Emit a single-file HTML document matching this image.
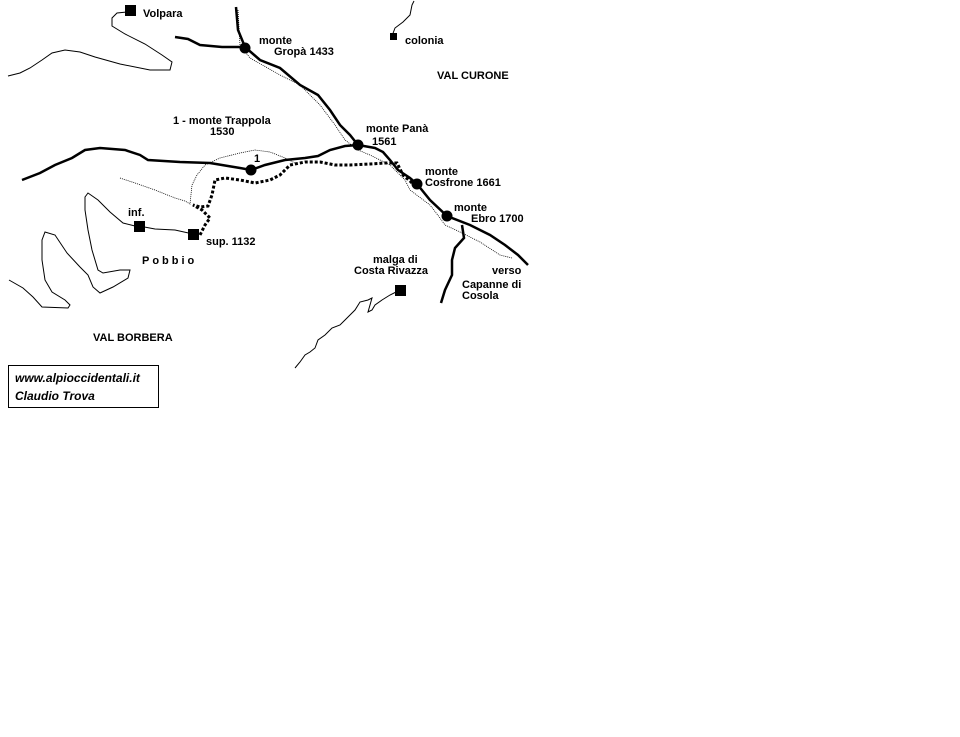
<!DOCTYPE html>
<html><head><meta charset="utf-8"><style>
html,body{margin:0;padding:0;background:#fff;}
body{width:960px;height:737px;position:relative;overflow:hidden;}
svg{position:absolute;left:0;top:0;}
text{font-family:"Liberation Sans",Arial,sans-serif;font-size:11px;font-weight:bold;fill:#000;}
.box{position:absolute;left:8px;top:365px;border:1px solid #000;font-family:"Liberation Sans",sans-serif;font-size:12px;font-weight:bold;font-style:italic;line-height:18px;padding:3px 0 0 6px;box-sizing:border-box;width:151px;height:43px;}
</style></head><body>
<svg width="960" height="737" viewBox="0 0 960 737">
<g fill="none" stroke="#000">
<!-- thin rivers -->
<path stroke-width="1" d="M127,12 L117,13 L112,18 L112,26 L125,34 L145,44 L162,55 L172,62 L170,70 L150,70 L120,64 L95,57 L80,52 L65,50 L52,53 L42,60 L30,68 L20,73 L8,76"/>
<path stroke-width="1" d="M135,226 L123,223 L110,212 L98,200 L88,193 L85,197 L85,210 L88,230 L92,250 L98,270 L103,273 L120,270 L130,270 L128,278 L113,287 L100,293 L93,287 L88,275 L80,267 L67,253 L55,235 L45,232 L42,240 L42,260 L45,280 L52,292 L65,300 L70,305 L68,308 L42,307 L33,297 L23,288 L9,280"/>
<path stroke-width="1" d="M139,226 L155,229 L175,230 L193,234"/>
<path stroke-width="1" d="M400,290 L390,295 L382,300 L375,305 L372,310 L368,312 L370,305 L372,298 L368,300 L360,302 L355,310 L350,315 L345,320 L340,325 L332,328 L325,335 L318,340 L315,348 L310,352 L305,355 L300,362 L295,368"/>
<path stroke-width="1" d="M392,36 L395,28 L403,22 L410,15 L412,5 L414,1"/>
<!-- dotted thin paths -->
<path stroke-width="0.8" stroke-dasharray="1,1" d="M238,10 L240,45 L250,58 L280,75 L300,85 L320,105 L335,125 L345,140 L358,150 L370,155 L390,165 L405,180 L410,190 L430,205 L440,218 L445,225 L460,232 L480,242 L500,255 L512,258"/>
<path stroke-width="0.8" stroke-dasharray="1,1" d="M120,178 L135,183 L155,190 L175,198 L185,201 L190,204 L192,185 L197,175 L205,165 L220,158 L240,153 L255,150 L270,152 L285,158 L295,163"/>
<!-- ridges thick -->
<path stroke-width="2.5" d="M236,7 L238,30 L245,47 L260,60 L280,68 L300,85 L318,95 L330,110 L340,125 L350,135 L358,145 L375,148 L383,152 L390,160 L398,170 L410,178 L417,184 L430,200 L447,216 L470,225 L490,235 L505,245 L518,255 L528,265"/>
<path stroke-width="2.5" d="M175,37 L188,39 L200,45 L222,47 L245,47"/>
<path stroke-width="2.5" d="M22,180 L40,173 L55,165 L72,158 L85,150 L100,148 L125,150 L140,155 L148,160 L180,162 L210,163 L240,168 L251,170 L265,165 L285,160 L305,158 L318,156 L330,150 L345,146 L358,145"/>
<path stroke-width="2.5" d="M462,225 L464,238 L455,248 L452,260 L452,275 L445,290 L441,303"/>
</g>
<!-- dotted thick trail -->
<path fill="none" stroke="#000" stroke-width="3" stroke-dasharray="3,2" d="M200,235 L205,225 L210,218 L202,210 L193,205 L200,207 L208,206 L212,195 L215,180 L225,178 L240,180 L255,183 L270,180 L280,175 L290,165 L305,162 L320,162 L335,165 L350,165 L370,164 L385,163 L397,163 L403,175 L410,181 L415,186"/>
<g fill="#000">
<circle cx="245" cy="48" r="5.5"/>
<circle cx="358" cy="145" r="5.5"/>
<circle cx="417" cy="184" r="5.5"/>
<circle cx="447" cy="216" r="5.5"/>
<circle cx="251" cy="170" r="5.5"/>
<rect x="125" y="5" width="11" height="11"/>
<rect x="390" y="33" width="7" height="7"/>
<rect x="134" y="221" width="11" height="11"/>
<rect x="188" y="229" width="11" height="11"/>
<rect x="395" y="285" width="11" height="11"/>
</g>
<text x="143" y="17">Volpara</text>
<text x="259" y="44">monte</text>
<text x="274" y="55">Gropà 1433</text>
<text x="405" y="44">colonia</text>
<text x="437" y="79">VAL CURONE</text>
<text x="173" y="124">1 - monte Trappola</text>
<text x="210" y="135">1530</text>
<text x="366" y="132">monte Panà</text>
<text x="372" y="145">1561</text>
<text x="254" y="162">1</text>
<text x="425" y="175">monte</text>
<text x="425" y="186">Cosfrone 1661</text>
<text x="454" y="211">monte</text>
<text x="471" y="222">Ebro 1700</text>
<text x="128" y="216">inf.</text>
<text x="206" y="245">sup. 1132</text>
<text x="142" y="264" letter-spacing="3">Pobbio</text>
<text x="373" y="263">malga di</text>
<text x="354" y="274">Costa Rivazza</text>
<text x="492" y="274">verso</text>
<text x="462" y="288">Capanne di</text>
<text x="462" y="299">Cosola</text>
<text x="93" y="341">VAL BORBERA</text>
</svg>
<div class="box">www.alpioccidentali.it<br>Claudio Trova</div>
</body></html>
